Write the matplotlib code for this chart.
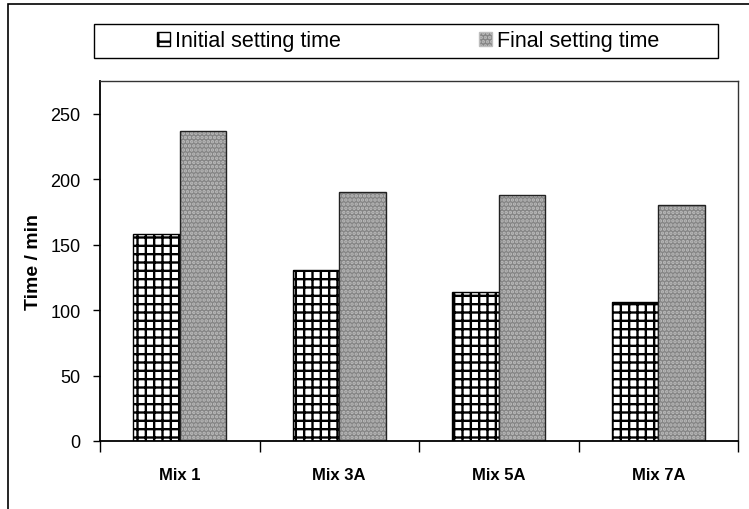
import numpy as np
import matplotlib.pyplot as plt
from matplotlib.patches import Rectangle, Patch

plt.rcParams['font.family'] = ['Liberation Sans', 'DejaVu Sans']
plt.rcParams['hatch.linewidth'] = 1.7

# data
mixes = ['Mix 1', 'Mix 3A', 'Mix 5A', 'Mix 7A']
initial_time = [158, 131, 114, 106]
final_time = [237, 190, 188, 180]

fig = plt.figure(figsize=(7.49, 5.10), dpi=100)
# outer chart border
fig.patches.append(Rectangle((8 / 749, -0.01), 1.0, 1 - 5 / 510 + 0.01,
                             transform=fig.transFigure, fill=False,
                             edgecolor='black', linewidth=1.2))

ax = fig.add_axes([100 / 749, 68 / 510, 638 / 749, 360 / 510])

x = np.arange(len(mixes))
w = 0.29

# initial: white with black grid hatch
ax.bar(x - w / 2, initial_time, w, color='white', edgecolor='black',
       hatch='++', linewidth=0)
ax.bar(x - w / 2, initial_time, w, fill=False, edgecolor='black', linewidth=1.0)

# final: fine gray checker
ax.bar(x + w / 2, final_time, w, color='#858585', edgecolor='#bdbdbd',
       hatch='....', linewidth=0)
ax.bar(x + w / 2, final_time, w, fill=False, edgecolor='#222222', linewidth=1.0)

ax.set_xlim(-0.5, len(mixes) - 0.5)
ax.set_ylim(0, 275)
ax.set_yticks(np.arange(0, 251, 50))
ax.tick_params(axis='y', direction='out', length=5, width=1, labelsize=13, pad=9)

ax.set_xticks(np.arange(len(mixes) + 1) - 0.5)
ax.set_xticklabels([])
ax.tick_params(axis='x', direction='out', length=8, width=1)
ax.set_xticks(x, minor=True)
ax.set_xticklabels(mixes, minor=True, fontsize=12, fontweight='bold')
ax.tick_params(axis='x', which='minor', length=0, pad=19)

for side in ['left', 'bottom']:
    ax.spines[side].set_linewidth(1.3)
for side in ['top', 'right']:
    ax.spines[side].set_linewidth(1.0)
    ax.spines[side].set_color('#333333')

ax.set_ylabel('Time / min', fontsize=14, fontweight='bold', labelpad=6)

# legend box
fig.patches.append(Rectangle((94 / 749, 1 - 59 / 510), 624 / 749, 34 / 510,
                             transform=fig.transFigure, fill=False,
                             edgecolor='black', linewidth=1.0))
handles = [Patch(facecolor='white', edgecolor='black', hatch='+'),
           Patch(facecolor='#858585', edgecolor='#bdbdbd', hatch='....')]
fig.legend(handles, ['Initial setting time', 'Final setting time'],
           loc='center', bbox_to_anchor=(408 / 749, 1 - 42 / 510), ncol=2,
           frameon=False, fontsize=15.5, handlelength=0.6, handleheight=0.6,
           handletextpad=0.25, columnspacing=6.4)

fig.savefig('out.png', dpi=100)
